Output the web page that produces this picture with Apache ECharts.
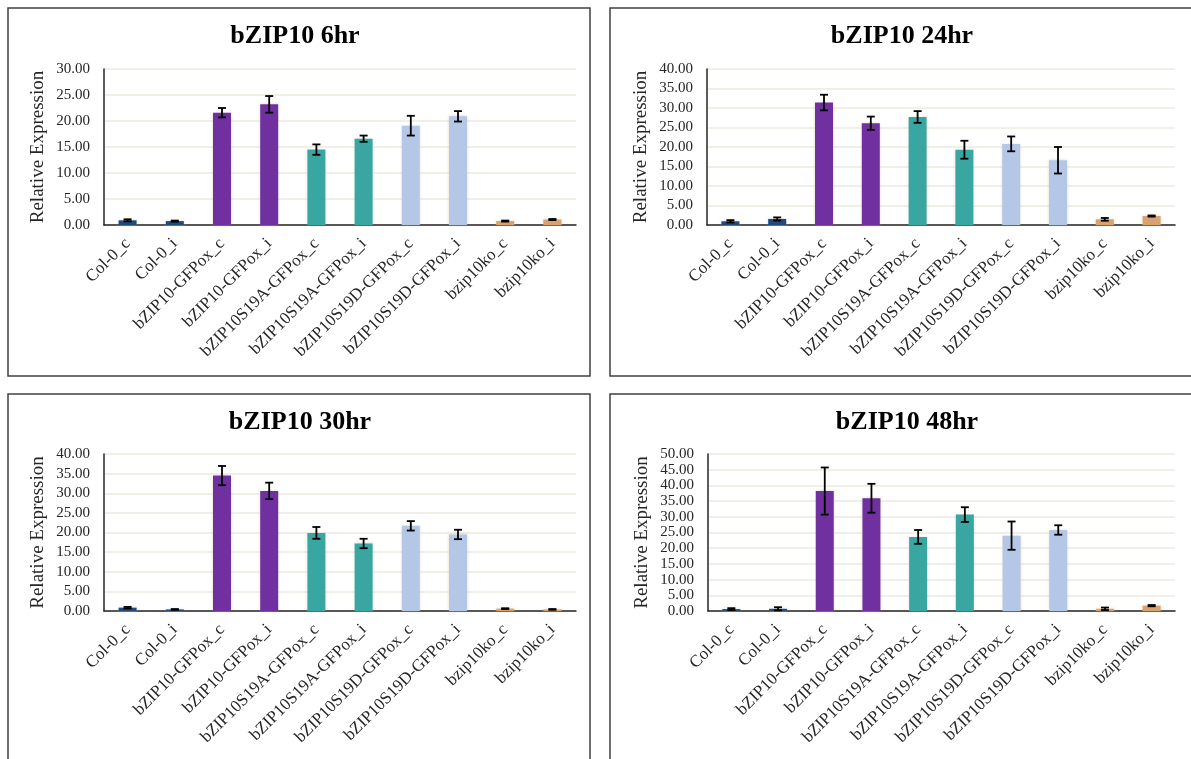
<!DOCTYPE html>
<html>
<head>
<meta charset="utf-8">
<script src="https://cdn.jsdelivr.net/npm/echarts@6/dist/echarts.min.js"></script>
<style>
html,body{margin:0;padding:0;background:#fff;}
#c{width:1191px;height:759px;}
</style>
</head>
<body>
<div id="c"></div>
<script>
const categories = ['Col-0_c','Col-0_i','bZIP10-GFPox_c','bZIP10-GFPox_i','bZIP10S19A-GFPox_c','bZIP10S19A-GFPox_i','bZIP10S19D-GFPox_c','bZIP10S19D-GFPox_i','bzip10ko_c','bzip10ko_i'];
const barColors = ['#1F4A7C','#1F4A7C','#7030A0','#7030A0','#3AA6A2','#3AA6A2','#B4C7E7','#B4C7E7','#D9A26F','#D9A26F'];

const titles = ['bZIP10 6hr','bZIP10 24hr','bZIP10 30hr','bZIP10 48hr'];
const yMax = [30, 40, 40, 50];

const values6  = [0.9, 0.75, 21.6, 23.2, 14.5, 16.6, 19.1, 20.9, 0.75, 1.05];
const err6     = [0.2, 0.1, 0.9, 1.6, 1.0, 0.6, 1.9, 1.0, 0.1, 0.1];
const values24 = [0.95, 1.55, 31.4, 26.1, 27.7, 19.3, 20.8, 16.6, 1.45, 2.3];
const err24    = [0.3, 0.4, 2.0, 1.7, 1.5, 2.3, 1.9, 3.4, 0.35, 0.15];
const values30 = [0.85, 0.4, 34.5, 30.6, 19.9, 17.2, 21.7, 19.5, 0.6, 0.4];
const err30    = [0.2, 0.1, 2.45, 2.1, 1.5, 1.2, 1.2, 1.2, 0.1, 0.1];
const values48 = [0.6, 0.7, 38.2, 35.9, 23.6, 30.7, 24.0, 25.8, 0.7, 1.7];
const err48    = [0.3, 0.5, 7.5, 4.6, 2.2, 2.35, 4.5, 1.5, 0.4, 0.2];

const allValues = [values6, values24, values30, values48];
const allErrs = [err6, err24, err30, err48];

// layout (pixels)
const grids = [
  {left:104, top:69, width:472, height:156},
  {left:707, top:69, width:468, height:156},
  {left:104, top:454, width:472, height:157},
  {left:708, top:454, width:467, height:157}
];
const titlePos = [{x:295,y:23},{x:902,y:23},{x:300,y:409},{x:907,y:409}];
const boxes = [
  {x:8, y:8, w:582, h:368},
  {x:610, y:8, w:600, h:368},
  {x:8, y:394, w:582, h:400},
  {x:610, y:394, w:600, h:400}
];

const serif = '"Liberation Serif", "Times New Roman", serif';

const option = {
  animation:false,
  backgroundColor:'#fff',
  title: titles.map((t,i)=>({
    text:t, left:titlePos[i].x, top:titlePos[i].y, textAlign:'center', padding:0,
    textStyle:{fontFamily:serif, fontWeight:'bold', fontSize:26, color:'#000'}
  })),
  graphic: boxes.map(b=>({
    type:'rect', silent:true, z:-1,
    shape:{x:b.x, y:b.y, width:b.w, height:b.h},
    style:{fill:'none', stroke:'#404040', lineWidth:1.5}
  })),
  grid: grids.map(g=>Object.assign({containLabel:false}, g)),
  xAxis: grids.map((g,i)=>({
    type:'category', gridIndex:i, data:categories,
    axisLine:{show:true, lineStyle:{color:'#262626', width:1.5}},
    axisTick:{show:false},
    axisLabel:{rotate:45, interval:0, margin:16, fontFamily:serif, fontSize:17, color:'#262626'},
    splitLine:{show:false}
  })),
  yAxis: grids.map((g,i)=>({
    type:'value', gridIndex:i, min:0, max:yMax[i], interval:5,
    name:'Relative Expression', nameLocation:'middle', nameGap:56,
    nameTextStyle:{fontFamily:serif, fontSize:19, color:'#262626'},
    axisLine:{show:true, lineStyle:{color:'#262626', width:1.5}},
    axisTick:{show:false},
    axisLabel:{margin:14, fontFamily:serif, fontSize:15, color:'#262626', formatter:v=>v.toFixed(2)},
    splitLine:{show:true, lineStyle:{color:'#EDEADF', width:1.5}}
  })),
  series: []
};

allValues.forEach((vals,i)=>{
  option.series.push({
    type:'bar', xAxisIndex:i, yAxisIndex:i, barWidth:18,
    data: vals.map((v,k)=>({value:v, itemStyle:{color:barColors[k]}})),
    itemStyle:{shadowBlur:3, shadowColor:'rgba(200,190,160,0.6)'}
  });
  option.series.push({
    type:'custom', xAxisIndex:i, yAxisIndex:i, z:5,
    data: vals.map((v,k)=>[k, v, allErrs[i][k]]),
    renderItem:(params, api)=>{
      const x = api.value(0), v = api.value(1), e = api.value(2);
      const top = api.coord([x, v+e]);
      const bot = api.coord([x, v-e]);
      const hw = 4;
      const st = {stroke:'#000', lineWidth:1.8};
      return {type:'group', children:[
        {type:'line', shape:{x1:top[0], y1:top[1], x2:bot[0], y2:bot[1]}, style:st},
        {type:'line', shape:{x1:top[0]-hw, y1:top[1], x2:top[0]+hw, y2:top[1]}, style:st},
        {type:'line', shape:{x1:bot[0]-hw, y1:bot[1], x2:bot[0]+hw, y2:bot[1]}, style:st}
      ]};
    }
  });
});

const chart = echarts.init(document.getElementById('c'), null, {renderer:'canvas'});
chart.setOption(option);
</script>
</body>
</html>
